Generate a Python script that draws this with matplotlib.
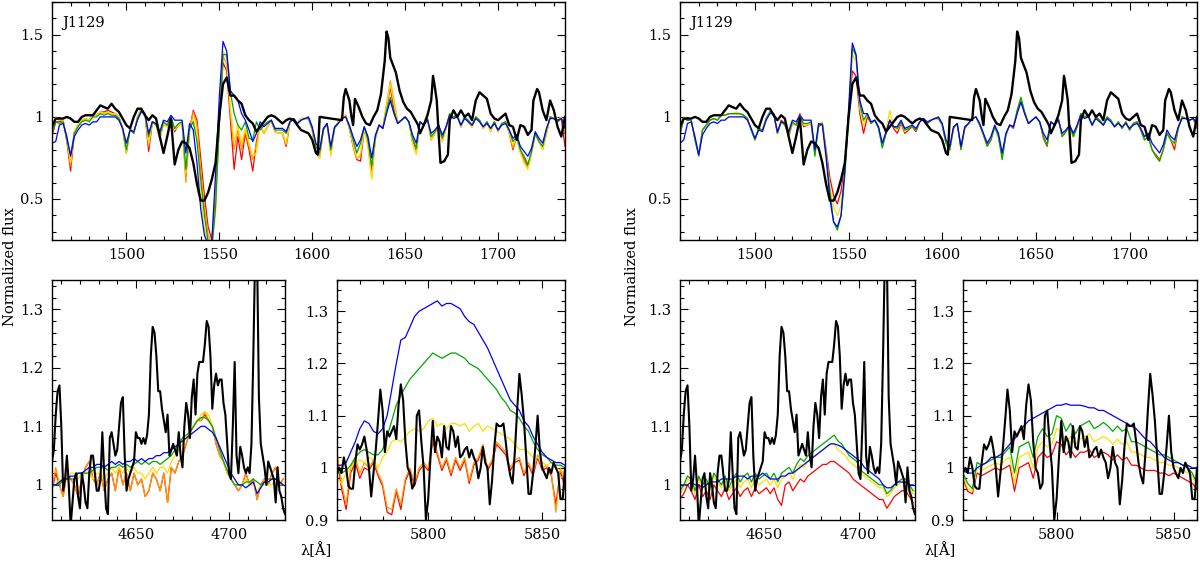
import numpy as np
import matplotlib
matplotlib.use('Agg')
import matplotlib.pyplot as plt
from matplotlib.ticker import MultipleLocator, FuncFormatter

plt.rcParams['font.family'] = ['DejaVu Serif']
plt.rcParams['font.size'] = 10.5

# ---------------- UV region (2 A grid starting at 1460) ----------------
uv_start = 1460
uv_step = 2

uv_red_a = [0.88, 0.97, 0.97, 0.98, 0.85, 0.67, 0.90, 0.95, 0.98, 0.99,
            0.98, 1.01, 1.01, 1.03, 1.03, 1.04, 1.03, 1.02, 1.00, 0.93,
            0.78, 0.93, 0.90, 1.00, 1.05, 1.02, 0.79, 0.97, 0.95, 0.87,
            0.96, 0.94, 0.99, 0.91, 0.95, 0.96, 0.64, 0.92, 1.04, 0.98,
            0.75, 0.52, 0.33, 0.25, 0.52, 0.95, 1.33, 1.28, 0.98, 0.68,
            0.88, 0.74, 0.90, 0.80, 0.67, 0.85, 0.95, 0.90, 0.94, 0.98,
            0.91, 0.90, 0.90, 0.82, 0.97, 0.99, 0.96, 0.99, 0.99, 0.99,
            0.92, 0.78, 0.76, 0.92, 0.96, 0.78, 0.93, 0.97, 1.00, 1.01,
            0.93, 0.82, 0.74, 0.73, 0.93, 0.84, 0.66, 0.87, 0.95, 0.93,
            1.06, 1.18, 1.05, 0.96, 0.98, 1.00, 0.97, 0.85, 0.79, 0.97,
            0.95, 0.99, 0.86, 0.90, 0.95, 0.86, 0.93, 1.02, 1.00, 1.01,
            0.94, 1.00, 0.97, 0.94, 1.00, 0.98, 0.93, 0.97, 0.92, 0.97,
            0.91, 0.96, 0.97, 0.90, 0.80, 0.88, 0.79, 0.74, 0.70, 0.78,
            0.90, 0.85, 0.81, 0.90, 1.00, 0.99, 0.97, 0.99, 0.82]
uv_orange_a = [0.90, 0.99, 0.98, 0.98, 0.86, 0.70, 0.91, 0.95, 0.98, 0.99,
               0.98, 1.01, 1.01, 1.03, 1.02, 1.03, 1.02, 1.02, 1.00, 0.92,
               0.78, 0.93, 0.90, 1.00, 1.05, 1.02, 0.82, 0.97, 0.95, 0.86,
               0.96, 0.94, 0.99, 0.92, 0.95, 0.96, 0.60, 0.92, 1.03, 0.95,
               0.68, 0.45, 0.28, 0.22, 0.48, 0.98, 1.37, 1.32, 1.02, 0.80,
               0.92, 0.80, 0.92, 0.82, 0.74, 0.83, 0.95, 0.90, 0.94, 0.98,
               0.91, 0.90, 0.90, 0.83, 0.97, 0.99, 0.96, 0.99, 0.99, 0.99,
               0.92, 0.78, 0.75, 0.92, 0.96, 0.78, 0.93, 0.97, 1.00, 1.01,
               0.93, 0.83, 0.75, 0.76, 0.93, 0.83, 0.63, 0.87, 0.95, 0.94,
               1.08, 1.22, 1.10, 0.97, 0.98, 1.00, 0.97, 0.84, 0.78, 0.97,
               0.95, 0.99, 0.86, 0.90, 0.95, 0.85, 0.93, 1.02, 1.00, 1.01,
               0.94, 1.00, 0.97, 0.94, 1.00, 0.98, 0.93, 0.97, 0.91, 0.97,
               0.91, 0.96, 0.97, 0.90, 0.81, 0.87, 0.78, 0.73, 0.69, 0.78,
               0.90, 0.85, 0.80, 0.90, 1.00, 0.99, 0.98, 1.00, 0.90]
uv_yellow_a = [0.93, 1.00, 0.99, 0.98, 0.87, 0.72, 0.91, 0.95, 0.98, 0.99,
               0.98, 1.01, 1.01, 1.03, 1.02, 1.03, 1.02, 1.02, 1.00, 0.92,
               0.78, 0.93, 0.90, 1.00, 1.05, 1.02, 0.84, 0.97, 0.95, 0.87,
               0.96, 0.94, 0.99, 0.92, 0.95, 0.96, 0.66, 0.92, 0.99, 0.90,
               0.52, 0.32, 0.22, 0.20, 0.42, 0.98, 1.40, 1.36, 1.05, 0.85,
               0.95, 0.84, 0.93, 0.84, 0.76, 0.78, 0.95, 0.90, 0.94, 0.98,
               0.91, 0.90, 0.90, 0.84, 0.97, 0.99, 0.96, 0.99, 0.99, 0.99,
               0.92, 0.78, 0.75, 0.92, 0.96, 0.76, 0.93, 0.97, 1.00, 1.01,
               0.93, 0.83, 0.75, 0.78, 0.93, 0.82, 0.62, 0.87, 0.95, 0.94,
               1.07, 1.20, 1.08, 0.97, 0.98, 1.00, 0.97, 0.84, 0.77, 0.97,
               0.95, 0.99, 0.86, 0.90, 0.95, 0.85, 0.93, 1.02, 1.00, 1.01,
               0.94, 1.00, 0.97, 0.94, 1.00, 0.98, 0.93, 0.97, 0.91, 0.97,
               0.91, 0.96, 0.97, 0.90, 0.83, 0.87, 0.78, 0.72, 0.68, 0.78,
               0.90, 0.85, 0.80, 0.90, 1.00, 0.99, 0.98, 1.00, 0.92]
uv_green_a = [0.90, 0.97, 0.96, 0.97, 0.86, 0.77, 0.90, 0.94, 0.97, 0.98,
              0.97, 1.00, 1.00, 1.02, 1.01, 1.02, 1.01, 1.01, 0.99, 0.93,
              0.80, 0.92, 0.90, 0.99, 1.04, 1.02, 0.88, 0.97, 0.95, 0.89,
              0.97, 0.95, 1.00, 0.93, 0.96, 0.97, 0.68, 0.93, 0.97, 0.85,
              0.62, 0.40, 0.24, 0.20, 0.45, 0.95, 1.38, 1.38, 1.15, 1.02,
              0.95, 0.92, 0.97, 0.87, 0.86, 0.97, 0.92, 0.95, 0.97, 0.98,
              0.92, 0.92, 0.92, 0.90, 0.97, 0.99, 0.96, 0.98, 0.99, 0.99,
              0.93, 0.82, 0.78, 0.92, 0.96, 0.80, 0.93, 0.96, 0.99, 1.00,
              0.94, 0.86, 0.78, 0.84, 0.94, 0.86, 0.70, 0.88, 0.95, 0.93,
              1.04, 1.12, 1.03, 0.96, 0.98, 1.00, 0.97, 0.87, 0.81, 0.97,
              0.95, 0.99, 0.88, 0.91, 0.95, 0.87, 0.94, 1.02, 1.00, 1.01,
              0.95, 1.00, 0.98, 0.95, 1.00, 0.98, 0.94, 0.97, 0.93, 0.97,
              0.92, 0.96, 0.97, 0.92, 0.85, 0.88, 0.80, 0.76, 0.71, 0.79,
              0.90, 0.85, 0.82, 0.92, 1.00, 0.99, 0.97, 0.99, 0.96]
uv_blue_a = [0.84, 0.85, 0.95, 0.96, 0.88, 0.76, 0.88, 0.92, 0.95, 0.96,
             0.95, 0.97, 0.97, 1.00, 1.00, 1.00, 1.00, 1.00, 0.98, 0.93,
             0.84, 0.92, 0.91, 0.98, 1.03, 1.02, 0.90, 0.97, 0.96, 0.91,
             0.98, 0.97, 1.01, 0.98, 0.98, 0.98, 0.78, 0.96, 0.92, 0.72,
             0.44, 0.28, 0.22, 0.25, 0.65, 1.12, 1.46, 1.40, 1.16, 1.13,
             1.10, 1.02, 0.98, 0.92, 0.85, 0.90, 0.97, 0.94, 0.96, 0.98,
             0.93, 0.93, 0.93, 0.91, 0.97, 0.99, 0.96, 0.98, 0.99, 1.00,
             0.94, 0.84, 0.80, 0.93, 0.96, 0.82, 0.94, 0.96, 0.99, 1.00,
             0.95, 0.88, 0.82, 0.86, 0.94, 0.88, 0.75, 0.89, 0.95, 0.93,
             1.02, 1.10, 1.02, 0.96, 0.98, 1.00, 0.97, 0.89, 0.84, 0.97,
             0.95, 0.98, 0.90, 0.92, 0.95, 0.89, 0.94, 1.01, 0.99, 1.00,
             0.95, 0.99, 0.97, 0.95, 0.99, 0.97, 0.94, 0.96, 0.93, 0.96,
             0.92, 0.95, 0.96, 0.92, 0.87, 0.89, 0.82, 0.79, 0.76, 0.81,
             0.91, 0.87, 0.84, 0.93, 0.99, 0.99, 0.98, 0.99, 0.93]

uv_red_b = [0.89, 0.99, 0.98, 0.98, 0.86, 0.77, 0.92, 0.95, 0.98, 0.99,
            0.98, 1.01, 1.01, 1.02, 1.02, 1.02, 1.02, 1.01, 0.99, 0.92,
            0.86, 0.93, 0.92, 0.99, 1.03, 1.02, 0.90, 0.98, 0.96, 0.88,
            0.96, 0.95, 1.02, 0.94, 0.95, 0.96, 0.78, 0.94, 0.96, 0.80,
            0.63, 0.52, 0.47, 0.55, 0.72, 1.00, 1.28, 1.25, 1.02, 0.90,
            1.00, 0.96, 0.98, 0.93, 0.83, 0.90, 0.98, 0.93, 0.90, 0.96,
            0.90, 0.92, 0.94, 0.91, 0.97, 0.99, 0.96, 0.98, 0.99, 0.99,
            0.95, 0.84, 0.80, 0.93, 0.96, 0.81, 0.93, 0.96, 0.99, 1.00,
            0.95, 0.89, 0.83, 0.86, 0.94, 0.88, 0.76, 0.89, 0.95, 0.93,
            1.03, 1.10, 1.02, 0.96, 0.98, 1.00, 0.97, 0.87, 0.82, 0.97,
            0.95, 0.99, 0.88, 0.91, 0.95, 0.88, 0.94, 1.02, 1.00, 1.01,
            0.95, 1.00, 0.98, 0.95, 1.00, 0.98, 0.94, 0.97, 0.93, 0.97,
            0.92, 0.96, 0.97, 0.92, 0.86, 0.88, 0.80, 0.77, 0.74, 0.80,
            0.90, 0.86, 0.80, 0.93, 1.00, 0.99, 0.98, 0.99, 0.93]
uv_yellow_b = [0.91, 1.00, 0.99, 0.98, 0.86, 0.77, 0.92, 0.95, 0.98, 0.99,
               0.98, 1.01, 1.01, 1.02, 1.02, 1.03, 1.02, 1.01, 0.99, 0.92,
               0.86, 0.93, 0.92, 0.99, 1.03, 1.02, 0.90, 0.97, 0.95, 0.88,
               0.96, 0.95, 1.01, 0.95, 0.95, 0.96, 0.77, 0.95, 0.97, 0.78,
               0.58, 0.45, 0.40, 0.46, 0.68, 1.00, 1.38, 1.34, 1.05, 0.95,
               1.02, 0.96, 0.98, 0.93, 0.82, 0.92, 1.04, 0.94, 0.92, 0.97,
               0.91, 0.93, 0.94, 0.92, 0.97, 0.99, 0.96, 0.98, 0.99, 0.99,
               0.95, 0.84, 0.80, 0.93, 0.96, 0.80, 0.93, 0.96, 0.99, 1.00,
               0.95, 0.89, 0.82, 0.86, 0.94, 0.88, 0.75, 0.89, 0.95, 0.94,
               1.04, 1.11, 1.03, 0.96, 0.98, 1.00, 0.97, 0.88, 0.83, 0.97,
               0.95, 0.99, 0.88, 0.91, 0.95, 0.88, 0.94, 1.02, 1.00, 1.01,
               0.95, 1.00, 0.98, 0.95, 1.00, 0.98, 0.94, 0.97, 0.93, 0.97,
               0.92, 0.96, 0.97, 0.92, 0.86, 0.88, 0.80, 0.76, 0.73, 0.80,
               0.90, 0.86, 0.83, 0.93, 1.00, 0.99, 0.98, 0.99, 0.95]
uv_green_b = [0.90, 0.99, 0.98, 0.98, 0.86, 0.76, 0.92, 0.95, 0.98, 0.99,
              0.98, 1.01, 1.01, 1.02, 1.02, 1.02, 1.02, 1.01, 0.99, 0.92,
              0.86, 0.93, 0.92, 0.99, 1.03, 1.02, 0.90, 0.97, 0.95, 0.89,
              0.97, 0.95, 1.00, 0.96, 0.96, 0.97, 0.76, 0.95, 0.96, 0.78,
              0.55, 0.36, 0.31, 0.40, 0.64, 1.00, 1.42, 1.37, 1.08, 0.98,
              1.02, 0.96, 0.98, 0.93, 0.81, 0.90, 0.98, 0.94, 0.93, 0.97,
              0.92, 0.93, 0.94, 0.92, 0.97, 0.99, 0.96, 0.98, 0.99, 0.99,
              0.95, 0.84, 0.80, 0.93, 0.96, 0.80, 0.93, 0.96, 0.99, 1.00,
              0.95, 0.89, 0.82, 0.86, 0.94, 0.88, 0.74, 0.89, 0.95, 0.94,
              1.04, 1.12, 1.03, 0.96, 0.98, 1.00, 0.97, 0.88, 0.83, 0.97,
              0.95, 0.99, 0.88, 0.91, 0.95, 0.88, 0.94, 1.02, 1.00, 1.01,
              0.95, 1.00, 0.98, 0.95, 1.00, 0.98, 0.94, 0.97, 0.93, 0.97,
              0.92, 0.96, 0.97, 0.92, 0.86, 0.88, 0.80, 0.76, 0.73, 0.80,
              0.90, 0.86, 0.84, 0.93, 1.00, 0.99, 0.98, 0.99, 0.95]
uv_blue_b = [0.84, 0.86, 0.96, 0.97, 0.88, 0.77, 0.89, 0.93, 0.96, 0.97,
             0.96, 0.98, 0.98, 1.00, 1.00, 1.00, 1.00, 1.00, 0.98, 0.93,
             0.87, 0.92, 0.91, 0.98, 1.02, 1.02, 0.91, 0.97, 0.96, 0.91,
             0.98, 0.97, 1.01, 0.98, 0.98, 0.98, 0.80, 0.96, 0.95, 0.75,
             0.50, 0.36, 0.33, 0.40, 0.68, 1.05, 1.45, 1.38, 1.10, 1.02,
             1.02, 0.97, 0.98, 0.94, 0.84, 0.91, 0.98, 0.94, 0.94, 0.98,
             0.93, 0.94, 0.95, 0.93, 0.97, 0.99, 0.97, 0.98, 0.99, 1.00,
             0.96, 0.86, 0.82, 0.94, 0.96, 0.82, 0.94, 0.96, 0.99, 1.00,
             0.96, 0.90, 0.84, 0.88, 0.95, 0.90, 0.78, 0.90, 0.95, 0.94,
             1.02, 1.09, 1.02, 0.96, 0.98, 1.00, 0.97, 0.90, 0.86, 0.97,
             0.95, 0.98, 0.90, 0.92, 0.95, 0.90, 0.95, 1.01, 0.99, 1.00,
             0.95, 0.99, 0.97, 0.95, 0.99, 0.97, 0.94, 0.96, 0.94, 0.96,
             0.93, 0.95, 0.96, 0.93, 0.88, 0.90, 0.84, 0.81, 0.78, 0.83,
             0.92, 0.88, 0.86, 0.94, 0.99, 0.99, 0.98, 0.99, 0.96]

# observed UV spectrum (irregular sampling, gap 1604-1616)
uv_obs_wl = [1460, 1462, 1464, 1466, 1468, 1470, 1472, 1474, 1476, 1478,
             1480, 1482, 1484, 1486, 1488, 1490, 1492, 1494, 1496, 1498,
             1500, 1502, 1504, 1506, 1508, 1510, 1512, 1514, 1516, 1518,
             1520, 1522, 1524, 1526, 1528, 1530, 1532, 1534, 1536, 1538,
             1540, 1542, 1544, 1546, 1548, 1550, 1552, 1554, 1556, 1558,
             1560, 1562, 1564, 1566, 1568, 1570, 1572, 1574, 1576, 1578,
             1580, 1582, 1584, 1586, 1588, 1590, 1592, 1594, 1596, 1598,
             1600, 1602, 1603, 1604, 1616, 1617, 1618, 1620, 1621, 1622,
             1623, 1625, 1627, 1629, 1631, 1633, 1635, 1637, 1639, 1640,
             1641, 1642, 1643, 1645, 1647, 1649, 1651, 1653, 1655, 1657,
             1658, 1660, 1662, 1664, 1665, 1666, 1667, 1668, 1669, 1671,
             1673, 1674, 1676, 1678, 1680, 1682, 1684, 1686, 1688, 1690,
             1692, 1694, 1696, 1698, 1700, 1702, 1704, 1706, 1708, 1710,
             1712, 1714, 1716, 1718, 1719, 1721, 1722, 1724, 1726, 1728,
             1730, 1732, 1734, 1736]
uv_obs_flux = [0.94, 0.99, 0.99, 0.99, 1.00, 0.99, 0.97, 0.97, 1.00, 1.01,
               1.01, 1.01, 1.04, 1.07, 1.06, 1.05, 1.08, 1.05, 1.03, 0.99,
               0.95, 0.93, 1.00, 1.05, 1.05, 1.01, 0.98, 1.01, 0.99, 0.88,
               0.78, 0.88, 0.99, 0.71, 0.80, 0.85, 0.84, 0.81, 0.72, 0.59,
               0.49, 0.49, 0.54, 0.62, 0.72, 1.00, 1.20, 1.24, 1.13, 1.13,
               1.10, 1.08, 1.01, 0.98, 0.96, 0.91, 0.94, 0.97, 1.00, 1.01,
               1.00, 0.98, 0.96, 0.98, 0.99, 0.98, 0.95, 0.92, 0.91, 0.90,
               0.86, 0.78, 0.77, 1.00, 0.98, 1.12, 1.17, 1.10, 1.01, 0.95,
               1.11, 1.06, 1.00, 0.96, 0.95, 1.00, 1.04, 1.14, 1.34, 1.52,
               1.48, 1.36, 1.33, 1.27, 1.16, 1.09, 1.05, 1.03, 0.99, 0.95,
               0.90, 0.95, 1.01, 1.10, 1.25, 1.18, 1.10, 0.90, 0.72, 0.73,
               0.77, 0.98, 1.04, 1.00, 1.04, 1.00, 1.02, 0.98, 1.10, 1.15,
               1.13, 1.11, 1.02, 0.99, 0.98, 1.00, 1.02, 0.95, 0.94, 0.86,
               0.95, 0.94, 0.89, 0.92, 1.10, 1.17, 1.15, 1.04, 0.98, 1.10,
               1.04, 0.94, 0.88, 1.00]

# ---------------- He II 4686 region (2 A grid starting at 4605) ----------------
he_start = 4605
he_step = 2

he_red_a = [0.99, 1.02, 1.00, 0.98, 1.02, 1.01, 1.00, 0.98, 1.01, 1.03,
            1.04, 1.01, 1.00, 1.02, 0.99, 1.01, 1.02, 0.99, 1.03, 1.00,
            1.02, 0.99, 1.02, 1.00, 1.01, 0.98, 0.99, 1.02, 1.01, 0.99,
            1.02, 0.97, 1.03, 1.02, 1.04, 1.05, 1.07, 1.09, 1.10, 1.11,
            1.11, 1.12, 1.11, 1.10, 1.07, 1.05, 1.04, 1.02, 1.01, 1.00,
            0.99, 1.00, 1.02, 1.00, 1.01, 0.975, 1.00, 1.01, 1.00, 1.02,
            1.03, 1.00, 1.01]
he_orange_a = [0.99, 1.03, 1.00, 0.98, 1.02, 1.01, 1.00, 0.98, 1.01, 1.03,
               1.04, 1.01, 1.00, 1.02, 0.99, 1.01, 1.02, 0.99, 1.03, 1.00,
               1.02, 0.99, 1.02, 1.00, 1.01, 0.98, 0.99, 1.02, 1.01, 0.99,
               1.02, 0.97, 1.03, 1.02, 1.04, 1.05, 1.07, 1.09, 1.10, 1.11,
               1.11, 1.125, 1.11, 1.10, 1.07, 1.05, 1.04, 1.02, 1.01, 1.00,
               0.99, 1.00, 1.02, 1.00, 1.01, 0.975, 1.00, 1.01, 1.00, 1.02,
               1.03, 1.00, 1.01]
he_yellow_a = [1.00, 1.00, 1.01, 1.00, 1.01, 1.02, 1.02, 1.01, 1.02, 1.02,
               1.02, 1.01, 1.02, 1.02, 1.01, 1.02, 1.03, 1.02, 1.03, 1.02,
               1.03, 1.02, 1.03, 1.02, 1.02, 1.01, 1.02, 1.03, 1.02, 1.03,
               1.03, 1.02, 1.04, 1.05, 1.06, 1.07, 1.08, 1.09, 1.10, 1.11,
               1.12, 1.125, 1.12, 1.10, 1.08, 1.06, 1.04, 1.02, 1.01, 1.00,
               1.00, 1.00, 1.01, 1.00, 1.00, 0.99, 1.00, 1.00, 1.00, 1.00,
               1.01, 1.00, 1.00]
he_green_a = [1.00, 1.00, 1.00, 1.01, 1.01, 1.01, 1.01, 1.02, 1.02, 1.02,
              1.02, 1.025, 1.03, 1.03, 1.03, 1.025, 1.03, 1.03, 1.035, 1.03,
              1.035, 1.03, 1.035, 1.04, 1.035, 1.04, 1.035, 1.04, 1.04, 1.035,
              1.04, 1.045, 1.05, 1.06, 1.07, 1.08, 1.085, 1.09, 1.10, 1.11,
              1.115, 1.115, 1.11, 1.10, 1.08, 1.06, 1.04, 1.025, 1.01, 1.00,
              1.00, 1.00, 1.005, 1.005, 1.01, 1.005, 1.00, 1.005, 1.01, 1.01,
              1.01, 1.005, 1.00]
he_blue_a = [1.00, 1.00, 1.005, 1.01, 1.01, 1.015, 1.015, 1.02, 1.02, 1.025,
             1.03, 1.03, 1.035, 1.035, 1.03, 1.035, 1.04, 1.035, 1.04, 1.035,
             1.04, 1.04, 1.045, 1.04, 1.045, 1.04, 1.045, 1.045, 1.05, 1.05,
             1.055, 1.055, 1.06, 1.065, 1.07, 1.075, 1.08, 1.085, 1.09, 1.095,
             1.10, 1.10, 1.095, 1.09, 1.08, 1.065, 1.05, 1.035, 1.02, 1.01,
             1.00, 1.00, 0.995, 1.00, 1.005, 0.985, 0.995, 1.005, 1.005, 1.01,
             1.01, 1.005, 1.00]

he_red_b = [0.975, 0.985, 1.0, 0.99, 0.975, 1.0, 0.98, 0.99, 0.975, 1.0,
            0.99, 0.98, 0.995, 0.975, 0.985, 0.995, 0.98, 0.99, 0.995, 0.98,
            0.995, 0.985, 0.99, 0.995, 0.985, 0.995, 0.975, 0.965, 1.0, 1.005,
            0.99, 1.0, 1.01, 1.005, 1.015, 1.02, 1.025, 1.03, 1.035, 1.035,
            1.04, 1.04, 1.035, 1.03, 1.025, 1.02, 1.01, 1.005, 1.0, 0.995,
            0.99, 0.985, 0.98, 0.975, 0.975, 0.96, 0.97, 0.98, 0.985, 0.99,
            0.99, 0.98, 0.97]
he_yellow_b = [0.985, 0.995, 1.01, 1.005, 0.985, 1.01, 0.995, 1.005, 0.99, 1.015,
               1.005, 0.995, 1.01, 0.99, 1.0, 1.01, 0.995, 1.005, 1.01, 0.995,
               1.01, 1.0, 1.005, 1.01, 1.0, 1.01, 0.995, 1.01, 1.015, 1.02,
               1.01, 1.025, 1.035, 1.03, 1.04, 1.045, 1.05, 1.055, 1.06, 1.065,
               1.07, 1.07, 1.06, 1.055, 1.05, 1.04, 1.035, 1.03, 1.02, 1.015,
               1.01, 1.005, 1.0, 0.995, 0.995, 0.98, 0.985, 0.995, 1.0, 1.005,
               1.005, 0.995, 0.985]
he_green_b = [0.99, 1.00, 1.015, 1.01, 0.99, 1.015, 1.00, 1.01, 0.995, 1.02,
              1.01, 1.00, 1.015, 0.995, 1.01, 1.02, 1.005, 1.015, 1.02, 1.005,
              1.02, 1.01, 1.015, 1.02, 1.01, 1.02, 1.005, 1.02, 1.025, 1.03,
              1.02, 1.035, 1.045, 1.04, 1.05, 1.055, 1.06, 1.065, 1.07, 1.075,
              1.08, 1.085, 1.075, 1.07, 1.06, 1.05, 1.045, 1.04, 1.025, 1.02,
              1.015, 1.01, 1.005, 1.00, 1.00, 0.985, 0.99, 1.00, 1.005, 1.01,
              1.01, 1.00, 0.99]
he_blue_b = [1.00, 1.00, 1.00, 1.005, 1.00, 1.00, 0.995, 1.00, 1.005, 1.005,
             1.005, 1.01, 1.01, 1.01, 1.01, 1.015, 1.015, 1.015, 1.01, 1.015,
             1.015, 1.015, 1.02, 1.015, 1.01, 1.01, 1.01, 1.015, 1.015, 1.02,
             1.02, 1.025, 1.03, 1.035, 1.04, 1.045, 1.05, 1.055, 1.06, 1.065,
             1.07, 1.07, 1.068, 1.065, 1.06, 1.055, 1.05, 1.045, 1.04, 1.03,
             1.025, 1.02, 1.015, 1.01, 1.00, 0.995, 0.995, 1.00, 1.005, 1.005,
             1.005, 1.00, 1.00]

# observed, 1 A grid starting at 4605
he_obs_start = 4605
he_obs_flux = [1.04, 1.06, 1.12, 1.16, 1.17, 1.10, 0.99, 1.01, 1.05, 1.00,
               0.93, 0.97, 1.01, 1.02, 0.98, 0.96, 1.02, 1.00, 0.97, 0.96,
               1.02, 1.05, 1.05, 1.02, 0.99, 0.99, 1.01, 1.09, 1.02, 0.96,
               0.95, 1.08, 1.09, 1.07, 1.05, 1.06, 1.10, 1.14, 1.15, 1.05,
               0.99, 1.01, 1.02, 1.03, 1.04, 1.09, 1.08, 1.08, 1.07, 1.08,
               1.07, 1.085, 1.12, 1.22, 1.27, 1.26, 1.22, 1.16, 1.16, 1.13,
               1.11, 1.09, 1.12, 1.05, 1.06, 1.07, 1.06, 1.05, 1.09, 1.05,
               1.03, 1.10, 1.14, 1.12, 1.08, 1.15, 1.18, 1.12, 1.19, 1.21,
               1.21, 1.21, 1.24, 1.28, 1.27, 1.22, 1.13, 1.17, 1.19, 1.17,
               1.18, 1.18, 1.14, 1.12, 1.07, 1.02, 1.01, 1.10, 1.21, 1.05,
               1.02, 1.065, 1.05, 1.03, 1.02, 1.03, 1.02, 1.07, 1.22, 1.40,
               1.40, 1.15, 1.07, 1.05, 1.03, 1.00, 1.04, 1.03, 1.02, 1.01,
               0.97, 1.03, 0.99, 0.98, 0.96, 0.95]

# ---------------- C IV 5801/12 region (2 A grid starting at 5760) ----------------
c4_start = 5760
c4_step = 2

c4_red_a = [1.02, 0.96, 0.92, 0.99, 1.01, 0.98, 1.00, 0.995, 1.01, 0.985,
            0.965, 0.915, 0.91, 0.955, 0.92, 0.975, 0.995, 0.965, 0.995, 1.005,
            0.995, 1.05, 1.025, 0.995, 1.015, 0.985, 1.015, 0.995, 1.015, 0.97,
            1.005, 1.015, 1.04, 0.995, 1.01, 1.045, 1.035, 1.025, 0.995, 1.01,
            1.015, 0.985, 1.005, 0.985, 1.02, 0.995, 1.0, 0.985, 0.93, 0.995,
            0.96]
c4_orange_a = [1.03, 0.97, 0.93, 1.00, 1.02, 0.99, 1.01, 1.00, 1.015, 0.99,
               0.97, 0.925, 0.92, 0.96, 0.93, 0.98, 1.00, 0.97, 1.00, 1.01,
               1.00, 1.055, 1.03, 1.00, 1.02, 0.99, 1.02, 1.00, 1.02, 0.975,
               1.01, 1.02, 1.045, 1.00, 1.015, 1.05, 1.04, 1.03, 1.00, 1.015,
               1.02, 0.99, 1.01, 0.99, 1.025, 1.00, 1.005, 0.99, 0.915, 1.00,
               0.97]
c4_yellow_a = [0.98, 0.97, 0.99, 1.00, 1.01, 1.015, 1.01, 1.02, 1.015, 1.00,
               1.02, 1.03, 1.05, 1.055, 1.05, 1.06, 1.07, 1.075, 1.07, 1.075,
               1.09, 1.095, 1.08, 1.085, 1.075, 1.085, 1.085, 1.08, 1.085, 1.07,
               1.08, 1.085, 1.07, 1.08, 1.075, 1.07, 1.065, 1.06, 1.055, 1.045,
               1.035, 1.035, 1.03, 1.02, 1.02, 1.01, 1.005, 1.01, 1.00, 0.995,
               0.99]
c4_green_a = [0.99, 0.99, 0.995, 1.005, 1.02, 1.03, 1.035, 1.03, 1.025, 1.025,
              1.035, 1.06, 1.09, 1.12, 1.14, 1.155, 1.17, 1.18, 1.19, 1.20,
              1.21, 1.22, 1.215, 1.21, 1.215, 1.22, 1.22, 1.215, 1.21, 1.20,
              1.195, 1.19, 1.18, 1.17, 1.16, 1.15, 1.135, 1.125, 1.11, 1.105,
              1.095, 1.08, 1.07, 1.05, 1.035, 1.025, 1.02, 1.01, 1.005, 1.005,
              1.00]
c4_blue_a = [1.005, 1.005, 1.01, 1.03, 1.05, 1.075, 1.09, 1.085, 1.07, 1.065,
             1.075, 1.10, 1.15, 1.20, 1.245, 1.25, 1.27, 1.29, 1.30, 1.305,
             1.31, 1.315, 1.32, 1.31, 1.315, 1.315, 1.31, 1.305, 1.29, 1.28,
             1.275, 1.26, 1.245, 1.23, 1.21, 1.19, 1.17, 1.15, 1.13, 1.12,
             1.11, 1.09, 1.08, 1.06, 1.045, 1.03, 1.02, 1.015, 1.01, 1.01,
             1.005]

c4_red_b = [0.98, 0.955, 0.95, 0.99, 0.985, 0.99, 0.995, 1.0, 0.995, 1.0,
            1.005, 0.955, 1.0, 1.005, 1.01, 0.98, 1.02, 1.03, 1.02, 1.025,
            1.05, 1.045, 1.025, 1.035, 1.02, 1.03, 1.03, 1.035, 1.02, 1.025,
            1.03, 1.025, 1.015, 1.025, 1.015, 1.02, 1.005, 1.005, 1.0, 0.995,
            0.995, 0.995, 0.99, 0.99, 0.985, 0.99, 0.985, 0.98, 0.975, 0.97,
            0.96]
c4_yellow_b = [0.985, 0.96, 0.955, 1.0, 0.995, 1.0, 1.005, 1.01, 1.005, 1.015,
               1.02, 0.97, 1.02, 1.025, 1.03, 1.0, 1.04, 1.05, 1.04, 1.045,
               1.075, 1.07, 1.05, 1.06, 1.045, 1.055, 1.06, 1.065, 1.05, 1.055,
               1.06, 1.055, 1.045, 1.055, 1.045, 1.05, 1.03, 1.03, 1.025, 1.02,
               1.02, 1.015, 1.01, 1.01, 1.005, 1.005, 1.0, 0.995, 0.99, 0.985,
               0.965]
c4_green_b = [0.99, 0.97, 0.96, 1.01, 1.005, 1.01, 1.015, 1.02, 1.02, 1.03,
              1.04, 0.99, 1.04, 1.045, 1.05, 1.02, 1.06, 1.075, 1.06, 1.065,
              1.10, 1.095, 1.07, 1.085, 1.065, 1.08, 1.085, 1.09, 1.075, 1.08,
              1.087, 1.08, 1.07, 1.08, 1.07, 1.075, 1.05, 1.05, 1.045, 1.04,
              1.035, 1.03, 1.025, 1.025, 1.02, 1.015, 1.01, 1.005, 1.0, 0.99,
              0.97]
c4_blue_b = [0.995, 0.99, 0.99, 1.0, 1.005, 1.01, 1.02, 1.02, 1.025, 1.035,
             1.045, 1.055, 1.07, 1.08, 1.09, 1.095, 1.10, 1.105, 1.11, 1.115,
             1.12, 1.12, 1.123, 1.12, 1.12, 1.12, 1.118, 1.115, 1.115, 1.11,
             1.11, 1.105, 1.10, 1.095, 1.09, 1.085, 1.08, 1.075, 1.065, 1.055,
             1.05, 1.04, 1.03, 1.02, 1.015, 1.01, 1.01, 1.005, 1.005, 1.0,
             1.0]

# observed, 1 A grid starting at 5760
c4_obs_start = 5760
c4_obs_flux = [0.99, 1.00, 0.99, 1.02, 1.00, 0.965, 0.96, 0.96, 1.01, 1.045,
               1.035, 1.045, 1.06, 1.035, 1.00, 0.945, 0.99, 1.035, 1.09, 1.15,
               1.11, 1.03, 1.07, 1.06, 1.07, 1.08, 1.055, 1.12, 1.16, 1.13,
               1.05, 1.00, 0.99, 0.96, 0.97, 1.10, 1.11, 1.05, 1.00, 0.90,
               0.94, 1.02, 1.09, 1.03, 1.06, 1.05, 1.02, 1.08, 1.04, 1.035,
               1.08, 1.07, 1.04, 1.06, 1.02, 1.025, 1.035, 1.04, 1.02, 1.035,
               1.02, 1.01, 0.98, 1.00, 1.04, 1.01, 1.00, 0.93, 0.975, 1.04,
               1.085, 1.08, 1.08, 1.085, 1.05, 1.01, 0.985, 0.97, 1.03, 1.11,
               1.18, 1.14, 1.09, 1.02, 0.95, 0.95, 0.99, 1.04, 1.10, 1.03,
               1.00, 0.99, 0.98, 1.00, 0.99, 1.01, 1.00, 0.99, 0.94, 0.94,
               1.00]

colors = {'red': '#ff0000', 'orange': '#ff9900', 'yellow': '#ffdd00',
          'green': '#00a800', 'blue': '#0000ff'}

groups = [
    {'uv': [('red', uv_red_a), ('orange', uv_orange_a), ('yellow', uv_yellow_a),
            ('green', uv_green_a), ('blue', uv_blue_a)],
     'he': [('red', he_red_a), ('orange', he_orange_a), ('yellow', he_yellow_a),
            ('green', he_green_a), ('blue', he_blue_a)],
     'c4': [('red', c4_red_a), ('orange', c4_orange_a), ('yellow', c4_yellow_a),
            ('green', c4_green_a), ('blue', c4_blue_a)],
     'x': (52, 565, 285, 337), 'ylab': 10, 'xlab': 316},
    {'uv': [('red', uv_red_b), ('yellow', uv_yellow_b),
            ('green', uv_green_b), ('blue', uv_blue_b)],
     'he': [('red', he_red_b), ('yellow', he_yellow_b),
            ('green', he_green_b), ('blue', he_blue_b)],
     'c4': [('red', c4_red_b), ('yellow', c4_yellow_b),
            ('green', c4_green_b), ('blue', c4_blue_b)],
     'x': (680, 1197, 915, 963), 'ylab': 632, 'xlab': 940},
]

W, H = 1200, 565


def pos(x0, x1, y0, y1):
    return [x0 / W, 1 - y1 / H, (x1 - x0) / W, (y1 - y0) / H]


def style(ax, xmaj, xmin, ymaj, ymin):
    ax.xaxis.set_major_locator(MultipleLocator(xmaj))
    ax.xaxis.set_minor_locator(MultipleLocator(xmin))
    ax.yaxis.set_major_locator(MultipleLocator(ymaj))
    ax.yaxis.set_minor_locator(MultipleLocator(ymin))
    fmt = FuncFormatter(lambda v, p: '%g' % round(v, 3))
    ax.xaxis.set_major_formatter(fmt)
    ax.yaxis.set_major_formatter(fmt)
    ax.tick_params(which='both', direction='in', top=True, right=True,
                   width=0.8, labelsize=10.5, pad=6)
    ax.tick_params(which='major', length=6)
    ax.tick_params(which='minor', length=3)
    for s in ax.spines.values():
        s.set_linewidth(1.0)


def grid(start, step, vals):
    return start + step * np.arange(len(vals))


fig = plt.figure(figsize=(12, 5.65), dpi=100)

for g in groups:
    xl, xr, xm1, xm2 = g['x']

    ax = fig.add_axes(pos(xl, xr, 2, 240))
    for name, vals in g['uv']:
        ax.plot(grid(uv_start, uv_step, vals), vals, color=colors[name], lw=0.9)
    ax.plot(uv_obs_wl, uv_obs_flux, color='black', lw=1.7)
    ax.set_xlim(1460, 1736)
    ax.set_ylim(0.25, 1.7)
    style(ax, 50, 10, 0.5, 0.1)
    ax.text(0.02, 0.91, 'J1129', transform=ax.transAxes, fontsize=10.5,
            va='center')

    ax = fig.add_axes(pos(xl, xm1, 280, 520))
    for name, vals in g['he']:
        ax.plot(grid(he_start, he_step, vals), vals, color=colors[name], lw=0.9)
    ax.plot(grid(he_obs_start, 1, he_obs_flux), he_obs_flux, color='black', lw=1.5)
    ax.set_xlim(4605, 4730)
    ax.set_ylim(0.94, 1.35)
    style(ax, 50, 10, 0.1, 0.02)

    ax = fig.add_axes(pos(xm2, xr, 280, 520))
    for name, vals in g['c4']:
        ax.plot(grid(c4_start, c4_step, vals), vals, color=colors[name], lw=0.9)
    ax.plot(grid(c4_obs_start, 1, c4_obs_flux), c4_obs_flux, color='black', lw=1.5)
    ax.set_xlim(5760, 5860)
    ax.set_ylim(0.9, 1.36)
    style(ax, 50, 10, 0.1, 0.02)

    fig.text(g['ylab'] / W, 1 - 267 / H, 'Normalized flux', rotation=90,
             ha='center', va='center', fontsize=10.5)
    fig.text(g['xlab'] / W, 1 - 550 / H, 'λ[Å]', ha='center', va='center',
             fontsize=10.5)

fig.savefig('out.png', dpi=100)
